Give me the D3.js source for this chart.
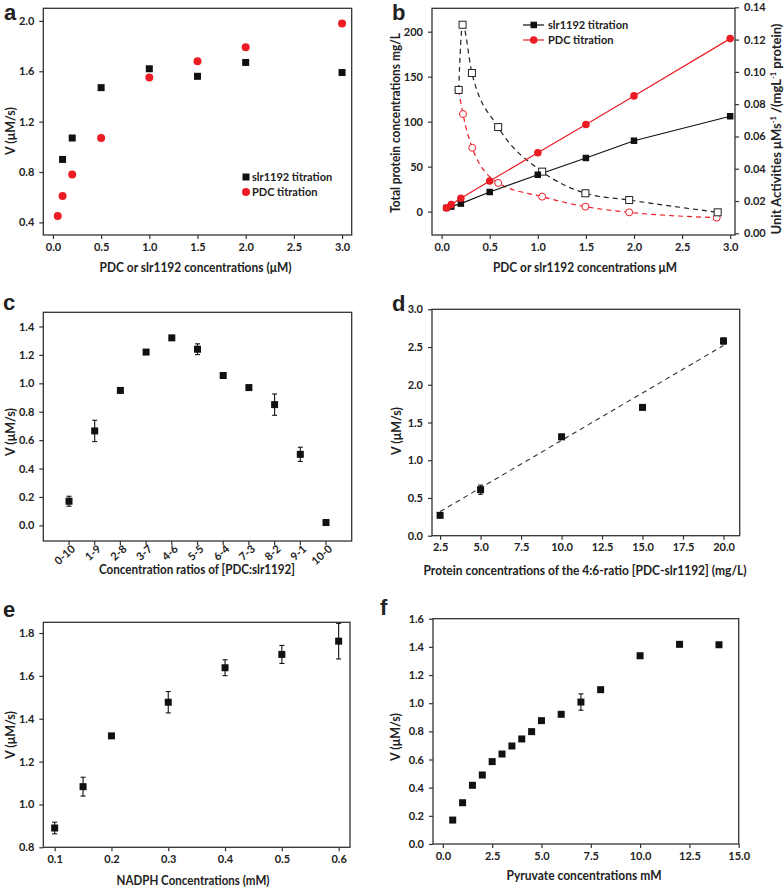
<!DOCTYPE html>
<html><head><meta charset="utf-8">
<script src="https://cdn.jsdelivr.net/npm/d3@7"></script>
<style>
body{margin:0;background:#fff}
svg{display:block}
text{font-family:Lato,'Open Sans',sans-serif;font-weight:bold;fill:#222}
</style>
</head><body><svg id="chart" width="784" height="891"></svg>
<script>
// ---------- Panel a ----------
const aSlrX = [0.1, 0.2, 0.5, 1.0, 1.5, 2.0, 3.0];
const aSlrY = [0.90, 1.07, 1.47, 1.62, 1.56, 1.67, 1.59];
const aPdcX = [0.05, 0.1, 0.2, 0.5, 1.0, 1.5, 2.0, 3.0];
const aPdcY = [0.45, 0.61, 0.78, 1.07, 1.55, 1.68, 1.79, 1.98];
const aXTicks = [0, 0.5, 1.0, 1.5, 2.0, 2.5, 3.0];
const aYTicks = [0.4, 0.8, 1.2, 1.6, 2.0];
const aLegend = ["slr1192 titration", "PDC titration"];

// ---------- Panel b ----------
const bConc = [0.05, 0.1, 0.2, 0.5, 1.0, 1.5, 2.0, 3.0];
const bSlrProtein = [4.2, 5.6, 8.9, 21.8, 41.0, 59.6, 78.8, 106];
const bPdcProtein = [4.0, 7.8, 14.8, 34.0, 65.4, 96.8, 128.6, 192.3];
const bSlrActX = [0.177, 0.218, 0.315, 0.588, 1.045, 1.495, 1.95, 2.87];
const bSlrAct  = [0.0888, 0.1292, 0.0993, 0.0658, 0.0382, 0.0248, 0.0206, 0.0130];
const bPdcActX = [0.177, 0.222, 0.318, 0.588, 1.045, 1.495, 1.95, 2.86];
const bPdcAct  = [0.0888, 0.0739, 0.0530, 0.0312, 0.0227, 0.0165, 0.0130, 0.0097];
const bXTicks = [0, 0.5, 1.0, 1.5, 2.0, 2.5, 3.0];
const bYTicks = [0, 50, 100, 150, 200];
const bY2Ticks = [0, 0.02, 0.04, 0.06, 0.08, 0.10, 0.12, 0.14];
const bLegend = ["slr1192 titration", "PDC titration"];

// ---------- Panel c ----------
const cCats = ["0-10","1-9","2-8","3-7","4-6","5-5","6-4","7-3","8-2","9-1","10-0"];
const cV    = [0.17, 0.665, 0.95, 1.22, 1.32, 1.24, 1.055, 0.97, 0.85, 0.50, 0.02];
const cErr  = [0.035, 0.075, 0.008, 0.008, 0.005, 0.038, 0.008, 0.015, 0.075, 0.05, 0.005];
const cYTicks = [0, 0.2, 0.4, 0.6, 0.8, 1.0, 1.2, 1.4];

// ---------- Panel d ----------
const dX   = [2.5, 5.0, 10.0, 15.0, 20.0];
const dV   = [0.27, 0.61, 1.31, 1.70, 2.58];
const dErr = [0.01, 0.06, 0.035, 0.02, 0.04];
const dFitX = [2.5, 20.0];
const dFitY = [0.32, 2.52];
const dXTicks = [2.5, 5.0, 7.5, 10.0, 12.5, 15.0, 17.5, 20.0];
const dYTicks = [0, 0.5, 1.0, 1.5, 2.0, 2.5, 3.0];

// ---------- Panel e ----------
const eX   = [0.1, 0.15, 0.2, 0.3, 0.4, 0.5, 0.6];
const eV   = [0.89, 1.083, 1.32, 1.477, 1.638, 1.70, 1.762];
const eErr = [0.027, 0.044, 0.005, 0.05, 0.037, 0.042, 0.083];
const eXTicks = [0.1, 0.2, 0.3, 0.4, 0.5, 0.6];
const eYTicks = [0.8, 1.0, 1.2, 1.4, 1.6, 1.8];

// ---------- Panel f ----------
const fX   = [0.5, 1.0, 1.5, 2.0, 2.5, 3.0, 3.5, 4.0, 4.5, 5.0, 6.0, 7.0, 8.0, 10.0, 12.0, 14.0];
const fV   = [0.17, 0.293, 0.417, 0.49, 0.585, 0.639, 0.696, 0.746, 0.798, 0.876, 0.921, 1.008, 1.096, 1.337, 1.418, 1.415];
const fErr = [0.008, 0.005, 0.012, 0.01, 0.005, 0.005, 0.005, 0.012, 0.01, 0.012, 0.012, 0.058, 0.015, 0.012, 0.005, 0.015];
const fXTicks = [0, 2.5, 5.0, 7.5, 10.0, 12.5, 15.0];
const fYTicks = [0, 0.2, 0.4, 0.6, 0.8, 1.0, 1.2, 1.4, 1.6];

const RED = "#ec1c24", BLK = "#111";
const svg = d3.select("#chart");

function styleTicks(sel) {
  sel.selectAll(".tick line").attr("stroke", "#333").attr("stroke-width", 1.2);
  sel.selectAll(".tick text").style("font-family", "Lato, sans-serif").style("font-weight", "bold")
    .style("font-size", "11px").attr("fill", "#222");
}

function frame(o) {
  const x = d3.scaleLinear().domain(o.xd).range([o.l, o.r]);
  const y = d3.scaleLinear().domain(o.yd).range([o.b, o.t]);
  const g = svg.append("g");
  if (o.xt) {
    const ax = g.append("g").attr("transform", `translate(0,${o.b})`)
      .call(d3.axisBottom(x).tickValues(o.xt).tickSize(4).tickPadding(4).tickFormat(o.xf || d3.format(".1f")));
    ax.select(".domain").remove();
  }
  const ay = g.append("g").attr("transform", `translate(${o.l},0)`)
    .call(d3.axisLeft(y).tickValues(o.yt).tickSize(4).tickPadding(5).tickFormat(o.yf || d3.format(".1f")));
  ay.select(".domain").remove();
  styleTicks(g);
  g.append("rect").attr("x", o.l).attr("y", o.t).attr("width", o.r - o.l).attr("height", o.b - o.t)
    .attr("fill", "none").attr("stroke", "#333").attr("stroke-width", 1.3);
  return {x, y, g};
}

// text fitted to a target width: shrink the font a little, then squeeze the rest
function label(x, y, s, size, rot, width) {
  const t = svg.append("text").attr("transform", `translate(${x},${y}) rotate(${rot || 0})`)
    .attr("text-anchor", "middle").style("font-size", size + "px").text(s);
  if (width) {
    const w = t.node().getComputedTextLength();
    if (w > width) {
      const fs = Math.max(size * 0.9, size * width / w);
      t.style("font-size", fs + "px");
      const w2 = t.node().getComputedTextLength();
      if (w2 > width * 1.01) t.attr("textLength", width).attr("lengthAdjust", "spacingAndGlyphs");
    }
  }
  return t;
}
function letter(x, y, s) {
  svg.append("text").attr("x", x).attr("y", y).text(s)
    .style("font-family", "'Liberation Sans', Arial, sans-serif").style("font-size", "22px").style("font-weight", "bold").attr("fill", "#111");
}
function squares(g, xs, ys, x, y, size, fill, stroke) {
  g.selectAll(null).data(xs.map((d, i) => [d, ys[i]])).enter().append("rect")
    .attr("x", d => x(d[0]) - size / 2).attr("y", d => y(d[1]) - size / 2)
    .attr("width", size).attr("height", size)
    .attr("fill", fill).attr("stroke", stroke || "none").attr("stroke-width", 1);
}
function circles(g, xs, ys, x, y, r, fill, stroke) {
  g.selectAll(null).data(xs.map((d, i) => [d, ys[i]])).enter().append("circle")
    .attr("cx", d => x(d[0])).attr("cy", d => y(d[1])).attr("r", r)
    .attr("fill", fill).attr("stroke", stroke || "none").attr("stroke-width", 1);
}
function errbars(g, xs, ys, es, x, y) {
  const data = xs.map((d, i) => [d, ys[i], es[i]]);
  const eg = g.append("g").attr("stroke", BLK).attr("stroke-width", 1.1);
  data.forEach(d => {
    const cx = x(d[0]), y1 = y(d[1] + d[2]), y2 = y(d[1] - d[2]);
    eg.append("line").attr("x1", cx).attr("x2", cx).attr("y1", y1).attr("y2", y2);
    eg.append("line").attr("x1", cx - 2.5).attr("x2", cx + 2.5).attr("y1", y1).attr("y2", y1);
    eg.append("line").attr("x1", cx - 2.5).attr("x2", cx + 2.5).attr("y1", y2).attr("y2", y2);
  });
}

// ===== a =====
{
  const p = frame({l: 43.3, r: 351.7, t: 8.3, b: 235, xd: [-0.1, 3.1], yd: [0.3, 2.1], xt: aXTicks, yt: aYTicks});
  circles(p.g, aPdcX, aPdcY, p.x, p.y, 4, RED);
  squares(p.g, aSlrX, aSlrY, p.x, p.y, 7, BLK);
  const lg = p.g.append("g");
  lg.append("rect").attr("x", 242.5).attr("y", 173.5).attr("width", 7).attr("height", 7).attr("fill", BLK);
  lg.append("circle").attr("cx", 246).attr("cy", 192).attr("r", 4).attr("fill", RED);
  lg.append("text").attr("x", 252).attr("y", 181).style("font-size", "11px").text(aLegend[0]);
  lg.append("text").attr("x", 252).attr("y", 196).style("font-size", "11px").text(aLegend[1]);
  label(195.5, 272, "PDC or slr1192 concentrations (μM)", 14, 0, 192);
  label(15, 131, "V (μM/s)", 12.5, -90);
  letter(4, 20, "a");
}

// ===== b =====
{
  const p = frame({l: 432, r: 735, t: 8.3, b: 235, xd: [-0.1, 3.05], yd: [-26, 226], xt: bXTicks, yt: bYTicks, yf: d3.format("d")});
  const y2 = d3.scaleLinear().domain([0, 0.14]).range([233.3, 7.3]);
  const ax2 = p.g.append("g").attr("transform", "translate(735,0)")
    .call(d3.axisRight(y2).tickValues(bY2Ticks).tickSize(4).tickPadding(5).tickFormat(d3.format(".2f")));
  ax2.select(".domain").remove();
  styleTicks(ax2);

  const x = p.x, y = p.y;
  const line = d3.line().x(d => x(d[0])).y(d => y(d[1]));
  const line2 = d3.line().x(d => x(d[0])).y(d => y2(d[1])).curve(d3.curveMonotoneX);
  p.g.append("path").datum(bPdcActX.map((d, i) => [d, bPdcAct[i]])).attr("d", line2)
    .attr("fill", "none").attr("stroke", RED).attr("stroke-width", 1.2).attr("stroke-dasharray", "5,4");
  p.g.append("path").datum(bSlrActX.map((d, i) => [d, bSlrAct[i]])).attr("d", line2)
    .attr("fill", "none").attr("stroke", "#222").attr("stroke-width", 1.2).attr("stroke-dasharray", "5,4");
  p.g.append("path").datum(bConc.map((d, i) => [d, bSlrProtein[i]])).attr("d", line)
    .attr("fill", "none").attr("stroke", BLK).attr("stroke-width", 1.2);
  p.g.append("path").datum(bConc.map((d, i) => [d, bPdcProtein[i]])).attr("d", line)
    .attr("fill", "none").attr("stroke", RED).attr("stroke-width", 1.2);
  circles(p.g, bPdcActX, bPdcAct, x, y2, 3.5, "#fff", RED);
  squares(p.g, bSlrActX, bSlrAct, x, y2, 7, "#fff", "#222");
  squares(p.g, bConc, bSlrProtein, x, y, 6.5, BLK);
  circles(p.g, bConc, bPdcProtein, x, y, 3.8, RED);
  const lg = p.g.append("g");
  lg.append("line").attr("x1", 523).attr("x2", 544).attr("y1", 25).attr("y2", 25).attr("stroke", BLK).attr("stroke-width", 1.2);
  lg.append("rect").attr("x", 530.5).attr("y", 21.7).attr("width", 6.5).attr("height", 6.5).attr("fill", BLK);
  lg.append("line").attr("x1", 523).attr("x2", 544).attr("y1", 40).attr("y2", 40).attr("stroke", RED).attr("stroke-width", 1.2);
  lg.append("circle").attr("cx", 533.7).attr("cy", 40).attr("r", 3.8).attr("fill", RED);
  lg.append("text").attr("x", 548).attr("y", 29).style("font-size", "11px").text(bLegend[0]);
  lg.append("text").attr("x", 548).attr("y", 44).style("font-size", "11px").text(bLegend[1]);

  label(585, 272, "PDC or slr1192 concentrations μM", 14, 0, 184);
  label(400, 123, "Total protein concentrations mg/L", 14, -90, 180);
  const t = svg.append("text").attr("transform", "translate(781,129) rotate(-90)").attr("text-anchor", "middle").style("font-size", "13px");
  t.append("tspan").text("Unit Activities μMs");
  t.append("tspan").attr("dy", -5).style("font-size", "7.5px").text("-1");
  t.append("tspan").attr("dy", 5).text(" /(mgL");
  t.append("tspan").attr("dy", -5).style("font-size", "7.5px").text("-1");
  t.append("tspan").attr("dy", 5).text(" protein)");
  letter(392, 20, "b");
}

// ===== c =====
{
  const p = frame({l: 43.3, r: 351.7, t: 312.3, b: 541, xd: [-1, 11], yd: [-0.11, 1.5], yt: cYTicks});
  const idx = cCats.map((d, i) => i);
  const ax = p.g.append("g");
  idx.forEach(i => {
    ax.append("line").attr("x1", p.x(i)).attr("x2", p.x(i)).attr("y1", 541).attr("y2", 545).attr("stroke", "#333").attr("stroke-width", 1.2);
    ax.append("text").attr("transform", `translate(${p.x(i) + 7},${550}) rotate(-42)`).attr("text-anchor", "end")
      .style("font-size", "11px").text(cCats[i]);
  });
  errbars(p.g, idx, cV, cErr, p.x, p.y);
  squares(p.g, idx, cV, p.x, p.y, 7, BLK);
  label(197, 574, "Concentration ratios of [PDC:slr1192]", 14, 0, 196);
  label(15, 432, "V (μM/s)", 12.5, -90);
  letter(3, 310, "c");
}

// ===== d =====
{
  const p = frame({l: 432, r: 739.7, t: 309.3, b: 535.7, xd: [2, 21], yd: [0, 3], xt: dXTicks, yt: dYTicks});
  p.g.append("path").datum(dFitX.map((d, i) => [d, dFitY[i]]))
    .attr("d", d3.line().x(d => p.x(d[0])).y(d => p.y(d[1])))
    .attr("stroke", "#333").attr("stroke-width", 1.1).attr("stroke-dasharray", "5,4").attr("fill", "none");
  errbars(p.g, dX, dV, dErr, p.x, p.y);
  squares(p.g, dX, dV, p.x, p.y, 7, BLK);
  label(585, 575, "Protein concentrations of the 4:6-ratio [PDC-slr1192] (mg/L)", 14, 0, 323);
  label(401, 431, "V (μM/s)", 12.5, -90);
  letter(392, 311, "d");
}

// ===== e =====
{
  const p = frame({l: 43.3, r: 350, t: 622.3, b: 847.3, xd: [0.08, 0.62], yd: [0.8, 1.85], xt: eXTicks, yt: eYTicks});
  errbars(p.g, eX, eV, eErr, p.x, p.y);
  squares(p.g, eX, eV, p.x, p.y, 7, BLK);
  label(193, 885, "NADPH Concentrations (mM)", 14, 0, 153);
  label(15, 735, "V (μM/s)", 12.5, -90);
  letter(3, 617, "e");
}

// ===== f =====
{
  const p = frame({l: 433, r: 738.7, t: 618.7, b: 844, xd: [-0.5, 15], yd: [0, 1.6], xt: fXTicks, yt: fYTicks});
  errbars(p.g, fX, fV, fErr, p.x, p.y);
  squares(p.g, fX, fV, p.x, p.y, 7, BLK);
  label(584, 880, "Pyruvate concentrations mM", 14, 0, 155);
  label(400, 737, "V (μM/s)", 12.5, -90);
  letter(380, 615, "f");
}
</script>
</body></html>
